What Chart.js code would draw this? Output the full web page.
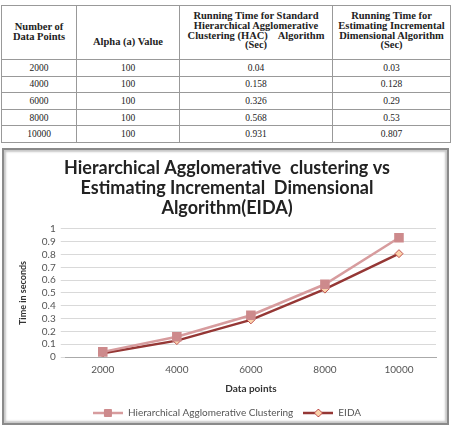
<!DOCTYPE html>
<html>
<head>
<meta charset="utf-8">
<script src="https://cdn.jsdelivr.net/npm/chart.js@4"></script>
<style>
  body{margin:0;width:453px;height:426px;background:#fff;overflow:hidden;position:relative;}
  table{position:absolute;left:1px;top:5px;width:449px;border-collapse:collapse;table-layout:fixed;
    font-family:"Liberation Serif","Times New Roman",serif;color:#222;}
  td,th{border:1px solid #999;text-align:center;padding:0;}
  th{height:53px;vertical-align:top;font-size:10.5px;line-height:9.8px;font-weight:bold;}
  td{height:15.6px;font-size:9.5px;line-height:12px;}
  .box{position:absolute;left:2px;top:148px;width:443px;height:273px;border:2px solid #8a8a8a;
    box-shadow:inset 2px 2px 2px #c8c8c8, inset -2px -2px 2px #c8c8c8;background:#fff;}
  canvas{display:block;position:absolute;left:0;top:0;}
</style>
</head>
<body>
<table>
  <colgroup><col style="width:75px"><col style="width:103px"><col style="width:153px"><col style="width:118px"></colgroup>
  <tr>
    <th><div style="padding-top:16px">Number of<br>Data Points</div></th>
    <th><div style="padding-top:31px">Alpha (a) Value</div></th>
    <th><div style="padding-top:5px">Running Time for Standard<br>Hierarchical Agglomerative<br>Clustering (HAC)&nbsp;&nbsp;&nbsp; Algorithm<br>(Sec)</div></th>
    <th><div style="padding-top:5px">Running Time for<br>Estimating Incremental<br>Dimensional Algorithm<br>(Sec)</div></th>
  </tr>
  <tbody id="rows"></tbody>
</table>
<div class="box"><canvas id="c" width="443" height="278"></canvas></div>
<script>
const dataPoints = ['2000', '4000', '6000', '8000', '10000'];
const alphaValues = [100, 100, 100, 100, 100];
const hacTimes = [0.04, 0.158, 0.326, 0.568, 0.931];
const eidaTimes = [0.03, 0.128, 0.29, 0.53, 0.807];
const hacText = ['0.04', '0.158', '0.326', '0.568', '0.931'];
const eidaText = ['0.03', '0.128', '0.29', '0.53', '0.807'];

/* table rows */
const tbody = document.getElementById('rows');
dataPoints.forEach((d, i) => {
  const tr = document.createElement('tr');
  tr.innerHTML = `<td>${d}</td><td>${alphaValues[i]}</td><td>${hacText[i]}</td><td>${eidaText[i]}</td>`;
  tbody.appendChild(tr);
});

const hacColor = '#d79c9e';
const hacFill = '#cd8a8c';
const eidaColor = '#953735';
const eidaFill = '#fbd3ac';

/* legend icon: line with marker */
function legendIcon(lineColor, fill, border, diamond){
  const c = document.createElement('canvas');
  c.width = 30; c.height = 10;
  const g = c.getContext('2d');
  g.strokeStyle = lineColor; g.lineWidth = 2.5;
  g.beginPath(); g.moveTo(0, 5); g.lineTo(30, 5); g.stroke();
  g.fillStyle = fill; g.strokeStyle = border; g.lineWidth = 1;
  g.beginPath();
  if(diamond){ g.moveTo(15, 1); g.lineTo(19, 5); g.lineTo(15, 9); g.lineTo(11, 5); g.closePath(); }
  else { g.rect(11.5, 1.5, 7, 7); }
  g.fill(); g.stroke();
  return c;
}
const icons = [legendIcon(hacColor, hacFill, hacFill, false), legendIcon(eidaColor, eidaFill, '#c0504d', true)];

const font = "Lato, 'Open Sans', sans-serif";

new Chart(document.getElementById('c'), {
  type: 'line',
  data: {
    labels: dataPoints,
    datasets: [
      {label: 'Hierarchical Agglomerative Clustering', data: hacTimes, borderColor: hacColor, borderWidth: 2.5,
       pointStyle: 'rect', pointRadius: 5, pointBackgroundColor: hacFill, pointBorderColor: hacFill, tension: 0},
      {label: 'EIDA', data: eidaTimes, borderColor: eidaColor, borderWidth: 2.5,
       pointStyle: 'rectRot', pointRadius: 4, pointBackgroundColor: eidaFill, pointBorderColor: '#c0504d', pointBorderWidth: 1, tension: 0}
    ]
  },
  options: {
    responsive: false,
    animation: false,
    layout: {padding: {top: 8, right: 11, bottom: 0, left: 14}},
    plugins: {
      title: {display: true, text: ['Hierarchical Agglomerative  clustering vs', 'Estimating Incremental  Dimensional', 'Algorithm(EIDA)'],
        color: '#222', font: {family: font, size: 18, weight: 'bold', lineHeight: 1.11}, padding: {top: 0, bottom: 11}},
      legend: {position: 'bottom', labels: {usePointStyle: true, pointStyleWidth: 30, color: '#555', boxHeight: 10,
        font: {family: font, size: 10}, padding: 10,
        generateLabels: chart => {
          const items = Chart.defaults.plugins.legend.labels.generateLabels(chart);
          items.forEach((it, i) => it.pointStyle = icons[i]);
          return items;
        }}},
      tooltip: {enabled: false}
    },
    scales: {
      x: {offset: true, grid: {display: false, tickLength: 5}, border: {color: '#aaa'},
        ticks: {color: '#555', font: {family: font, size: 10}, padding: 2},
        title: {display: true, text: 'Data points', color: '#333', font: {family: font, size: 10, weight: 'bold', lineHeight: 1}, padding: {top: 6, bottom: 4}}},
      y: {min: 0, max: 1, grid: {color: '#d9d9d9', tickLength: 5}, border: {display: false},
        ticks: {stepSize: 0.1, autoSkip: false, color: '#555', font: {family: font, size: 10}, padding: 5,
          callback: v => String(+v.toFixed(1))},
        title: {display: true, text: 'Time in seconds', color: '#333', font: {family: font, size: 9, weight: 'bold'}, padding: {top: 0, bottom: 8}}}
    }
  }
});
</script>
</body>
</html>
